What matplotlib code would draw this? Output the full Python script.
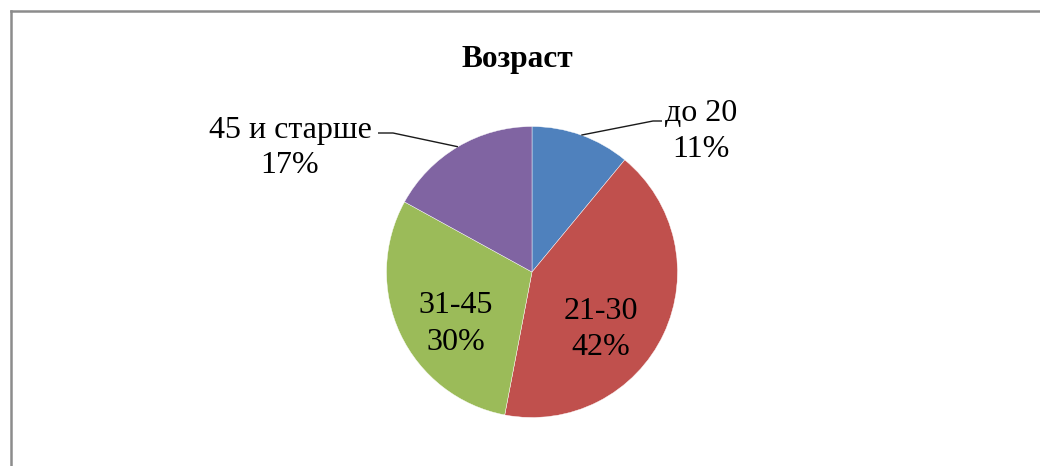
import numpy as np
import matplotlib
matplotlib.use("Agg")
import matplotlib.pyplot as plt
from matplotlib.lines import Line2D

categories = ["до 20", "21-30", "31-45", "45 и старше"]
values = [11, 42, 30, 17]
colors = ["#4F81BD", "#C0504D", "#9BBB59", "#8064A2"]
title = "Возраст"

W, H = 1040, 466
plt.rcParams["font.family"] = ["Liberation Serif", "DejaVu Serif"]

fig = plt.figure(figsize=(W / 100, H / 100), dpi=100)
ax = fig.add_axes([0, 0, 1, 1])

def py(y):
    return H - y

cx, cy, r = 532, 272, 145.5
wedges, _ = ax.pie(values, colors=colors, startangle=90, counterclock=False,
                   center=(cx, py(cy)), radius=r,
                   wedgeprops=dict(edgecolor="white", linewidth=0.3))
ax.set_xlim(0, W)
ax.set_ylim(0, H)
ax.set_aspect("equal")
ax.axis("off")

# frame (chart area border)
fig.add_artist(Line2D([10.7 / W, 10.7 / W], [0, 1 - 11.3 / H], color="#8c8c8c",
                      linewidth=1.8, transform=fig.transFigure))
fig.add_artist(Line2D([10.7 / W, 1], [1 - 11.3 / H, 1 - 11.3 / H], color="#8c8c8c",
                      linewidth=1.8, transform=fig.transFigure))

fs = 23
ax.text(517, py(66.5), title, ha="center", va="baseline", fontsize=22.6,
        fontweight="bold")

# label layout: (center x, baseline line1, baseline line2)
layout = [(701, 121, 157), (601, 319, 355), (456, 313, 350), (290, 138, 173)]
total = sum(values)
for cat, v, (lx, b1, b2) in zip(categories, values, layout):
    pct = f"{round(100 * v / total)}%"
    ax.text(lx, py(b1), cat, ha="center", va="baseline", fontsize=fs)
    ax.text(lx, py(b2), pct, ha="center", va="baseline", fontsize=fs)

# leader lines for outside labels
mids = [(w.theta1 + w.theta2) / 2 for w in wedges]
def edge_pt(i):
    a = np.deg2rad(mids[i])
    return cx + r * np.cos(a), py(cy) + r * np.sin(a)

x0, y0 = edge_pt(0)
ax.plot([x0, 653, 662], [y0, py(121), py(121)], color="#1a1a1a", linewidth=1.0,
        solid_capstyle="butt")
x3, y3 = edge_pt(3)
ax.plot([x3, 393, 378], [y3, py(133), py(133)], color="#1a1a1a", linewidth=1.0,
        solid_capstyle="butt")

fig.savefig("out.png", dpi=100, facecolor="white")
